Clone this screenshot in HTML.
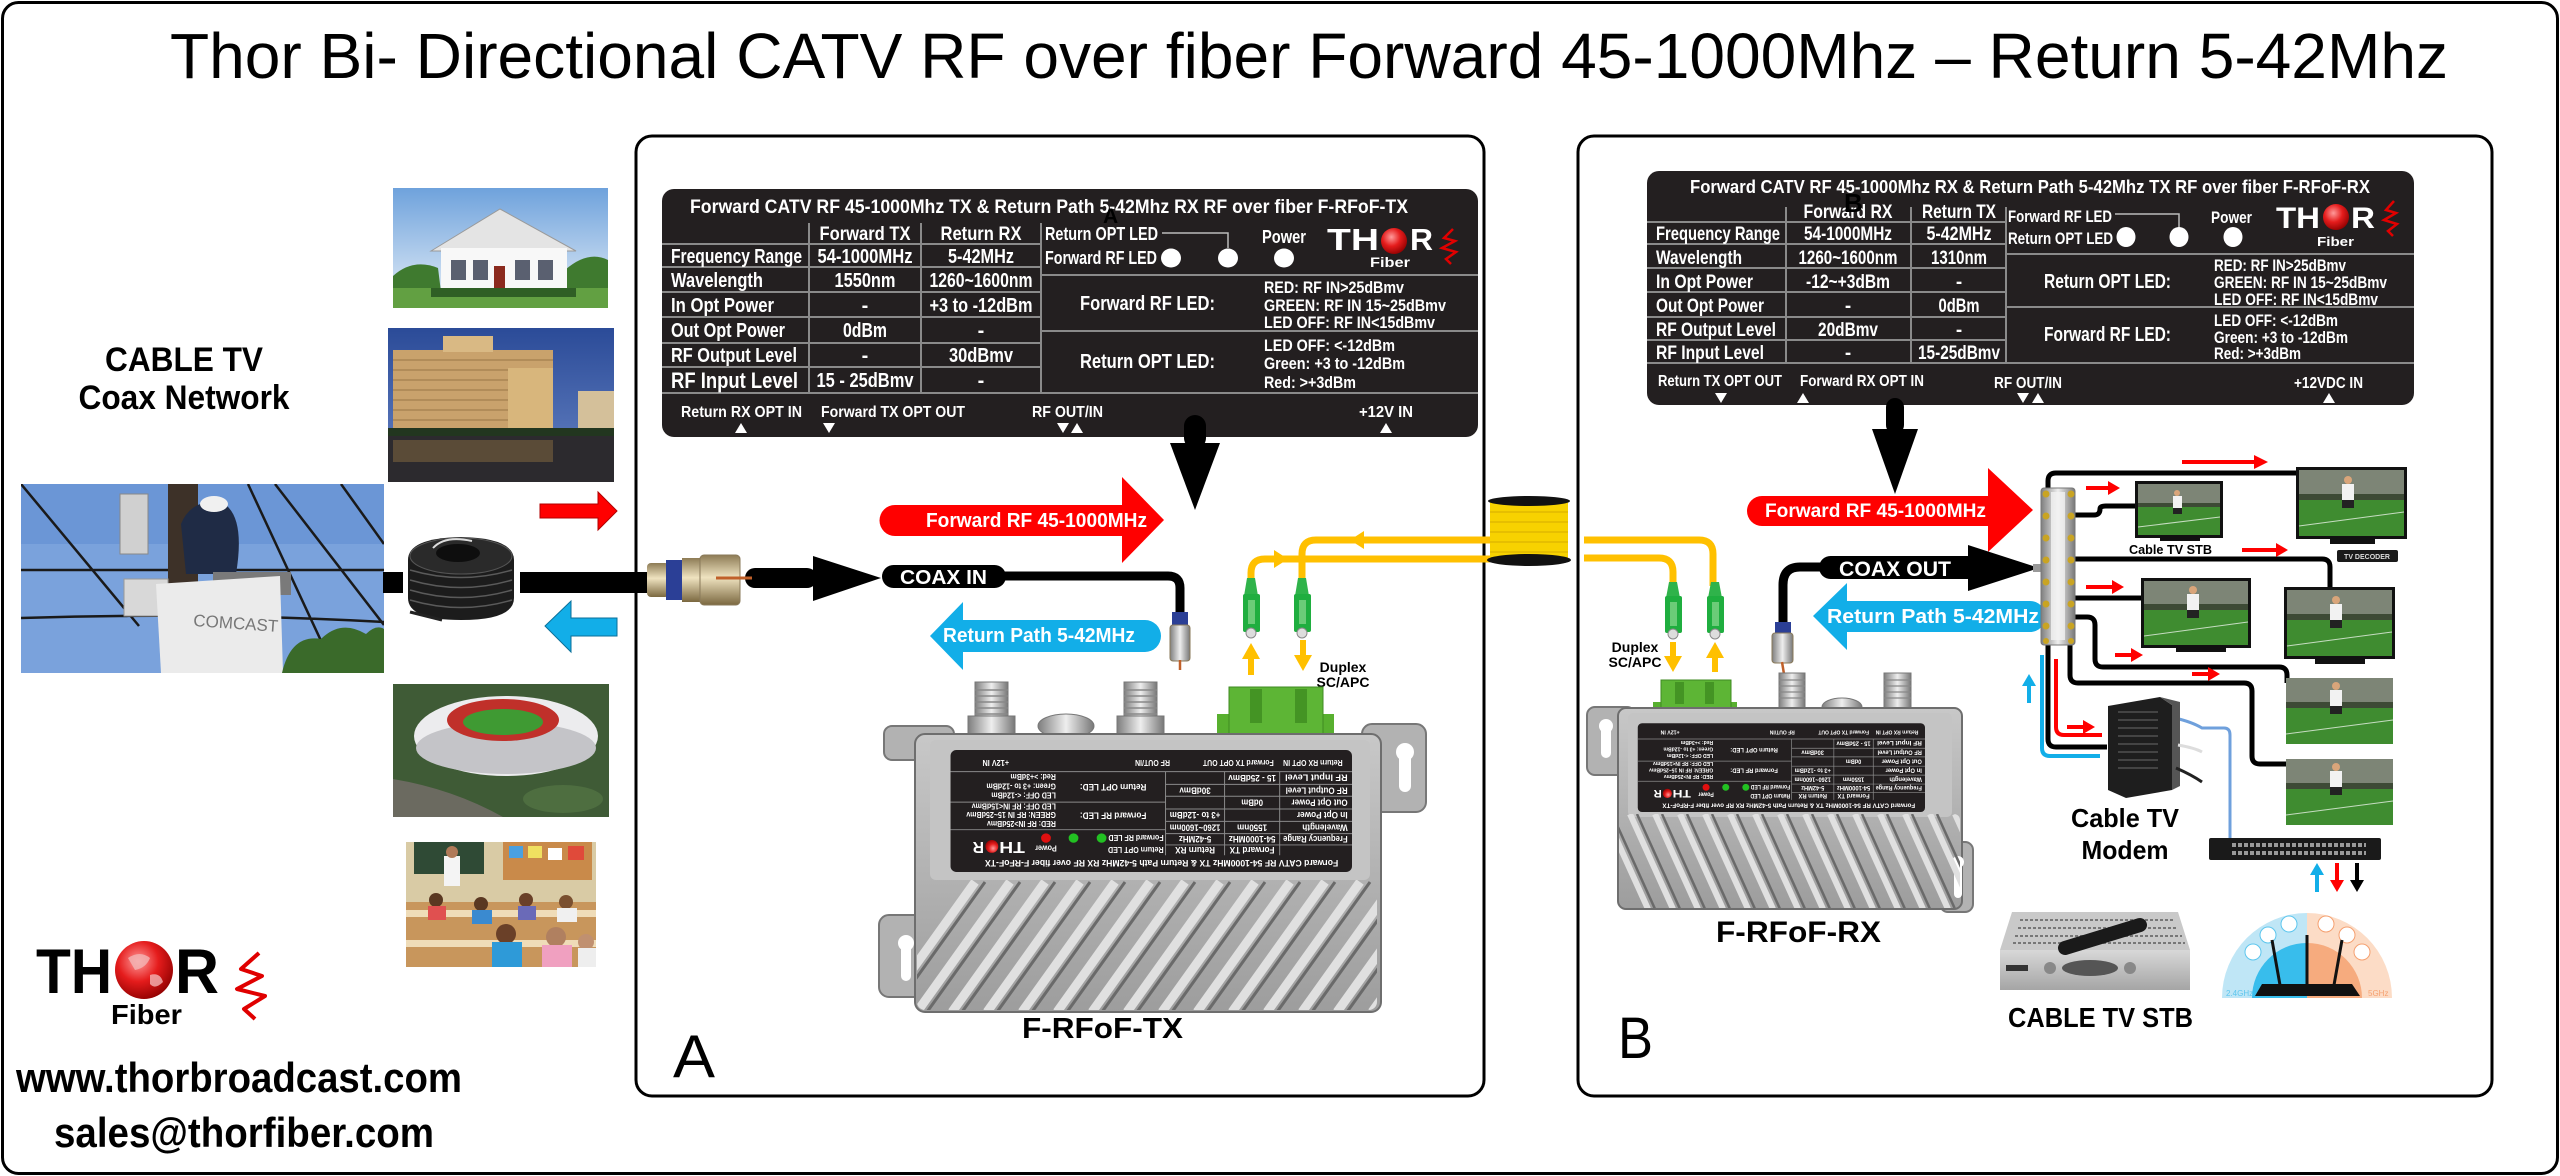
<!DOCTYPE html>
<html><head><meta charset="utf-8">
<style>
html,body{margin:0;padding:0;background:#fff;}
body{width:2560px;height:1176px;overflow:hidden;}
svg{display:block;}
text{font-family:"Liberation Sans",Arial,sans-serif;}
.w{fill:#fff;font-weight:bold;}
.b{font-weight:bold;}
</style></head><body>
<svg width="2560" height="1176" viewBox="0 0 2560 1176">
<defs>
<linearGradient id="metalh" x1="0" y1="0" x2="1" y2="0"><stop offset="0" stop-color="#7e7e7e"/><stop offset=".5" stop-color="#eeeeee"/><stop offset="1" stop-color="#777"/></linearGradient>
<linearGradient id="goldv" x1="0" y1="0" x2="0" y2="1"><stop offset="0" stop-color="#8d7b55"/><stop offset=".45" stop-color="#efe3c0"/><stop offset="1" stop-color="#7b6840"/></linearGradient>
<linearGradient id="bodyg" x1="0" y1="0" x2="0" y2="1"><stop offset="0" stop-color="#c8c8c8"/><stop offset="1" stop-color="#9d9d9d"/></linearGradient>
<radialGradient id="globe" cx=".4" cy=".35" r=".7"><stop offset="0" stop-color="#ff9a9a"/><stop offset=".5" stop-color="#e51c1c"/><stop offset="1" stop-color="#8e0000"/></radialGradient>
<linearGradient id="skyH" x1="0" y1="0" x2="0" y2="1"><stop offset="0" stop-color="#6ea2dc"/><stop offset="1" stop-color="#e6eff8"/></linearGradient>
<linearGradient id="skyT" x1="0" y1="0" x2="0" y2="1"><stop offset="0" stop-color="#2b4b98"/><stop offset="1" stop-color="#6784c4"/></linearGradient>
<linearGradient id="stb" x1="0" y1="0" x2="0" y2="1"><stop offset="0" stop-color="#d8d8d8"/><stop offset="1" stop-color="#a5a5a5"/></linearGradient>
<clipPath id="cpA"><rect x="917" y="880" width="460" height="130" rx="8"/></clipPath>
<clipPath id="cpB"><rect x="1619" y="814" width="341" height="94" rx="6"/></clipPath>
</defs>

<rect width="2560" height="1176" fill="#fff"/>
<rect x="2.5" y="2.5" width="2555" height="1171" rx="16" fill="none" stroke="#000" stroke-width="3"/>

<text x="170" y="78" font-size="64" textLength="2278" lengthAdjust="spacingAndGlyphs">Thor Bi- Directional CATV RF over fiber Forward 45-1000Mhz – Return 5-42Mhz</text>

<rect x="636" y="136" width="848" height="960" rx="16" fill="none" stroke="#000" stroke-width="3"/>
<rect x="1578" y="136" width="914" height="960" rx="16" fill="none" stroke="#000" stroke-width="3"/>

<!-- LEFT COLUMN -->
<text x="184" y="371" class="b" font-size="34" text-anchor="middle" textLength="158" lengthAdjust="spacingAndGlyphs">CABLE TV</text>
<text x="184" y="409" class="b" font-size="34" text-anchor="middle" textLength="211" lengthAdjust="spacingAndGlyphs">Coax Network</text>

<svg x="393" y="188" width="215" height="120" viewBox="0 0 215 120">
<rect width="215" height="120" fill="url(#skyH)"/>
<path d="M0,88 Q20,70 45,80 L50,120 H0Z" fill="#3f7a2f"/>
<path d="M172,82 Q195,62 215,72 V120 H172Z" fill="#3f7a2f"/>
<rect x="0" y="100" width="215" height="20" fill="#62a042"/>
<path d="M38,63 L107,21 L183,63 Z" fill="#e4e4e4" stroke="#9a9a9a"/>
<rect x="48" y="60" width="126" height="46" fill="#f8f8f8"/>
<rect x="58" y="72" width="15" height="20" fill="#5a6070"/>
<rect x="80" y="72" width="15" height="20" fill="#5a6070"/>
<rect x="101" y="78" width="11" height="27" fill="#8b2a1e"/>
<rect x="122" y="72" width="15" height="20" fill="#5a6070"/>
<rect x="145" y="72" width="15" height="20" fill="#5a6070"/>
<rect x="38" y="100" width="145" height="9" fill="#2f5f25"/>
</svg>

<svg x="388" y="328" width="226" height="154" viewBox="0 0 226 154">
<rect width="226" height="154" fill="url(#skyT)"/>
<rect x="5" y="22" width="160" height="86" fill="#c9a26c"/>
<rect x="55" y="8" width="50" height="16" fill="#d9b984"/>
<path d="M5,32H165M5,42H165M5,52H165M5,62H165M5,72H165M5,82H165M5,92H165" stroke="#a3804e" stroke-width="1.2"/>
<rect x="120" y="40" width="45" height="68" fill="#d8b67c"/>
<rect x="190" y="63" width="36" height="46" fill="#d4c09a"/>
<rect x="0" y="100" width="226" height="9" fill="#22361f"/>
<rect x="0" y="108" width="226" height="46" fill="#2c2a2e"/>
<rect x="5" y="112" width="160" height="22" fill="#6e5a3c" opacity=".7"/>
</svg>

<svg x="21" y="484" width="363" height="189" viewBox="0 0 363 189">
<rect width="363" height="189" fill="#7aa2dc"/>
<rect width="363" height="60" fill="#6b96d6"/>
<path d="M0,0 L118,142 M0,86 H363 M0,134 Q180,128 363,138 M227,0 L315,189 M254,0 L363,141 M320,0 L363,60" stroke="#1a1a1a" stroke-width="2.5" fill="none"/>
<rect x="147" y="0" width="30" height="120" fill="#3d3128"/>
<rect x="99" y="10" width="28" height="60" fill="#d0d0d0" stroke="#888"/>
<path d="M160,40 Q170,15 200,18 Q225,30 215,90 L165,90 Z" fill="#1f2b45"/>
<ellipse cx="193" cy="20" rx="14" ry="8" fill="#f0f0f0"/>
<rect x="192" y="88" width="78" height="23" fill="#7a7a7a"/>
<rect x="103" y="95" width="44" height="37" fill="#d8d8d8" stroke="#999"/>
<path d="M135,100 L259,92 L262,189 L140,189 Z" fill="#ebebeb"/>
<text x="172" y="142" font-size="17" fill="#777" transform="rotate(4 172 142)">COMCAST</text>
<path d="M261,189 Q270,150 300,155 Q320,135 345,150 Q355,140 363,145 V189 Z" fill="#3a6a2a"/>
</svg>

<svg x="393" y="684" width="216" height="133" viewBox="0 0 216 133">
<rect width="216" height="133" fill="#3f5b36"/>
<path d="M0,95 Q60,105 110,133 H0Z" fill="#6b6a60"/>
<ellipse cx="170" cy="115" rx="40" ry="14" fill="#4e6e40"/>
<ellipse cx="113" cy="52" rx="92" ry="40" fill="#ececee"/>
<ellipse cx="113" cy="64" rx="90" ry="26" fill="#c4c4c8"/>
<ellipse cx="110" cy="36" rx="56" ry="21" fill="#c0302a"/>
<ellipse cx="110" cy="38" rx="40" ry="13" fill="#3f9a33"/>
</svg>

<svg x="406" y="842" width="190" height="125" viewBox="0 0 190 125">
<rect width="190" height="125" fill="#d9cba5"/>
<rect x="8" y="0" width="70" height="32" fill="#2f4a35"/>
<rect x="97" y="0" width="89" height="38" fill="#c98a4a"/>
<rect x="103" y="4" width="14" height="12" fill="#4aa0e0"/><rect x="122" y="4" width="14" height="12" fill="#f0e060"/><rect x="142" y="6" width="14" height="12" fill="#fff"/><rect x="162" y="4" width="16" height="14" fill="#e04a3a"/>
<rect x="38" y="14" width="16" height="30" fill="#f4f4f4"/><circle cx="46" cy="10" r="6" fill="#b07a58"/>
<rect x="0" y="60" width="190" height="65" fill="#c8965c"/>
<rect x="0" y="68" width="190" height="7" fill="#efdcb8"/>
<rect x="0" y="98" width="190" height="7" fill="#efdcb8"/>
<circle cx="30" cy="58" r="7" fill="#5a3822"/><rect x="22" y="64" width="18" height="14" fill="#e05050"/>
<circle cx="75" cy="62" r="7" fill="#5a3822"/><rect x="66" y="68" width="20" height="14" fill="#3a8ad0"/>
<circle cx="120" cy="58" r="7" fill="#6a4028"/><rect x="112" y="64" width="18" height="14" fill="#6a6ab8"/>
<circle cx="160" cy="60" r="7" fill="#7a5030"/><rect x="151" y="66" width="20" height="14" fill="#f0f0f0"/>
<circle cx="100" cy="92" r="10" fill="#6a4028"/><rect x="86" y="100" width="30" height="25" fill="#2e9ad8"/>
<circle cx="150" cy="95" r="10" fill="#b08060"/><rect x="136" y="103" width="30" height="22" fill="#f0a0c0"/>
<circle cx="180" cy="100" r="8" fill="#c09070"/><rect x="172" y="106" width="18" height="19" fill="#eee"/>
</svg>

<path d="M540,504 H598 V492 L617,511 L598,530 V518 H540 Z" fill="#ff0000" stroke="#b00000" stroke-width="1"/>
<path d="M617,618 H571 V601 L545,626 L571,652 V636 H617 Z" fill="#12aee8" stroke="#0a6f99" stroke-width="1"/>
<rect x="383" y="572" width="20" height="21" fill="#000"/>
<rect x="520" y="572" width="140" height="21" fill="#000"/>
<path d="M408,560 Q408,538 461,537 Q514,538 514,560 V598 Q514,620 461,620 Q408,620 408,598 Z" fill="#1c1c1c"/>
<path d="M410,570 Q461,585 512,570 M410,580 Q461,595 512,580 M410,590 Q461,605 512,590 M410,600 Q461,615 512,600" stroke="#5a5a5a" stroke-width="1.5" fill="none"/>
<ellipse cx="461" cy="556" rx="51" ry="18" fill="#2a2a2a" stroke="#555"/>
<ellipse cx="458" cy="553" rx="22" ry="9" fill="#0e0e0e"/>
<path d="M433,548 Q445,535 472,541" stroke="#ddd" stroke-width="2" fill="none"/>
<path d="M410,612 L442,620" stroke="#222" stroke-width="3"/>

<text x="36" y="993" font-size="63" font-weight="900" textLength="76" lengthAdjust="spacingAndGlyphs">TH</text>
<circle cx="144" cy="970" r="29" fill="url(#globe)"/>
<path d="M128,958 Q140,950 150,958 Q146,968 135,970 Z M150,975 Q160,972 163,982 Q155,990 150,984 Z" fill="#f2b5b5" opacity=".8"/>
<text x="175" y="993" font-size="63" font-weight="900" textLength="44" lengthAdjust="spacingAndGlyphs">R</text>
<text x="111" y="1024" font-size="28" class="b" textLength="71" lengthAdjust="spacingAndGlyphs">Fiber</text>
<path d="M259,953 L241,969 L262,976 L237,989 L265,996 L244,1009 L255,1019" stroke="#e00000" stroke-width="4" fill="none" stroke-linejoin="round"/>
<text x="16" y="1092" font-size="42" class="b" textLength="446" lengthAdjust="spacingAndGlyphs">www.thorbroadcast.com</text>
<text x="54" y="1147" font-size="42" class="b" textLength="380" lengthAdjust="spacingAndGlyphs">sales@thorfiber.com</text>

<!-- ===== PANEL A LABEL ===== -->
<g transform="translate(662,189)">
<rect width="816" height="248" rx="12" fill="#231f20"/>
<path d="M0,55H379M0,78H379M0,103H379M0,128H379M0,154H379M0,178H379M0,204H816M379,86H816M379,142H816M147,34V204M259,34V204M379,34V204" stroke="#8a8a8a" stroke-width="2" fill="none"/>
<path d="M500,44H566V59" stroke="#bbb" stroke-width="1.5" fill="none"/>
<g class="w" font-size="20">
<text x="28" y="24" font-size="19" textLength="718" lengthAdjust="spacingAndGlyphs">Forward CATV RF 45-1000Mhz TX &amp; Return Path 5-42Mhz RX RF over fiber F-RFoF-TX</text>
<text x="203" y="51" font-size="19" text-anchor="middle" textLength="91" lengthAdjust="spacingAndGlyphs">Forward TX</text>
<text x="319" y="51" font-size="19" text-anchor="middle" textLength="81" lengthAdjust="spacingAndGlyphs">Return RX</text>
<text x="9" y="74" textLength="131" lengthAdjust="spacingAndGlyphs">Frequency Range</text>
<text x="203" y="74" text-anchor="middle" textLength="95" lengthAdjust="spacingAndGlyphs">54-1000MHz</text>
<text x="319" y="74" text-anchor="middle" textLength="66" lengthAdjust="spacingAndGlyphs">5-42MHz</text>
<text x="9" y="98" textLength="92" lengthAdjust="spacingAndGlyphs">Wavelength</text>
<text x="203" y="98" text-anchor="middle" textLength="61" lengthAdjust="spacingAndGlyphs">1550nm</text>
<text x="319" y="98" text-anchor="middle" textLength="103" lengthAdjust="spacingAndGlyphs">1260~1600nm</text>
<text x="9" y="123" textLength="103" lengthAdjust="spacingAndGlyphs">In Opt Power</text>
<text x="203" y="123" text-anchor="middle">-</text>
<text x="319" y="123" text-anchor="middle" textLength="103" lengthAdjust="spacingAndGlyphs">+3 to -12dBm</text>
<text x="9" y="148" textLength="114" lengthAdjust="spacingAndGlyphs">Out Opt Power</text>
<text x="203" y="148" text-anchor="middle" textLength="44" lengthAdjust="spacingAndGlyphs">0dBm</text>
<text x="319" y="148" text-anchor="middle">-</text>
<text x="9" y="173" textLength="126" lengthAdjust="spacingAndGlyphs">RF Output Level</text>
<text x="203" y="173" text-anchor="middle">-</text>
<text x="319" y="173" text-anchor="middle" textLength="64" lengthAdjust="spacingAndGlyphs">30dBmv</text>
<text x="9" y="199" font-size="22" textLength="127" lengthAdjust="spacingAndGlyphs">RF Input Level</text>
<text x="203" y="198" text-anchor="middle" textLength="97" lengthAdjust="spacingAndGlyphs">15 - 25dBmv</text>
<text x="319" y="198" text-anchor="middle">-</text>
<text x="383" y="51" font-size="18" textLength="113" lengthAdjust="spacingAndGlyphs">Return OPT LED</text>
<text x="383" y="75" font-size="18" textLength="112" lengthAdjust="spacingAndGlyphs">Forward RF LED</text>
<text x="600" y="54" font-size="18" textLength="44" lengthAdjust="spacingAndGlyphs">Power</text>
<ellipse cx="509" cy="69" rx="10" ry="9.5"/><ellipse cx="566" cy="69" rx="10" ry="9.5"/><ellipse cx="622" cy="69" rx="10" ry="9.5"/>
<text x="665" y="61" font-size="31" font-weight="900" textLength="52" lengthAdjust="spacingAndGlyphs">TH</text>
<circle cx="732" cy="52" r="13" fill="url(#globe)"/>
<text x="748" y="61" font-size="31" font-weight="900" textLength="23" lengthAdjust="spacingAndGlyphs">R</text>
<text x="708" y="78" font-size="14" textLength="40" lengthAdjust="spacingAndGlyphs">Fiber</text>
<text x="418" y="121" font-size="20" textLength="135" lengthAdjust="spacingAndGlyphs">Forward RF LED:</text>
<text x="602" y="104" font-size="17" textLength="140" lengthAdjust="spacingAndGlyphs">RED: RF IN&gt;25dBmv</text>
<text x="602" y="122" font-size="17" textLength="182" lengthAdjust="spacingAndGlyphs">GREEN: RF IN 15~25dBmv</text>
<text x="602" y="139" font-size="17" textLength="171" lengthAdjust="spacingAndGlyphs">LED OFF: RF IN&lt;15dBmv</text>
<text x="418" y="179" font-size="20" textLength="135" lengthAdjust="spacingAndGlyphs">Return OPT LED:</text>
<text x="602" y="162" font-size="17" textLength="131" lengthAdjust="spacingAndGlyphs">LED OFF: &lt;-12dBm</text>
<text x="602" y="180" font-size="17" textLength="141" lengthAdjust="spacingAndGlyphs">Green: +3 to -12dBm</text>
<text x="602" y="199" font-size="17" textLength="92" lengthAdjust="spacingAndGlyphs">Red: &gt;+3dBm</text>
<text x="19" y="228" font-size="16" textLength="121" lengthAdjust="spacingAndGlyphs">Return RX OPT IN</text>
<text x="159" y="228" font-size="16" textLength="144" lengthAdjust="spacingAndGlyphs">Forward TX OPT OUT</text>
<text x="370" y="228" font-size="16" textLength="71" lengthAdjust="spacingAndGlyphs">RF OUT/IN</text>
<text x="697" y="228" font-size="16" textLength="54" lengthAdjust="spacingAndGlyphs">+12V IN</text>
<path d="M73,244L79,234L85,244Z M161,234L167,244L173,234Z M395,234L401,244L407,234Z M409,244L415,234L421,244Z M718,244L724,234L730,244Z"/>
</g>
<path d="M791,40 L782,49 L793,52 L780,59 L794,63 L784,70 L789,75" stroke="#e00000" stroke-width="2.5" fill="none"/>
<text x="441" y="34" font-size="21" fill="#000" font-weight="bold">A</text>
</g>

<rect x="1184" y="415" width="22" height="34" rx="11" fill="#000"/>
<path d="M1170,443 L1220,443 L1195,510 Z" fill="#000"/>

<path d="M895,505 H1122 V477 L1164,520 L1122,563 V536 H895 A15.5,15.5 0 0 1 895,505 Z" fill="#ff0000"/>
<text x="926" y="527" class="w" font-size="20" textLength="221" lengthAdjust="spacingAndGlyphs">Forward RF 45-1000MHz</text>

<rect x="647" y="563" width="22" height="34" rx="4" fill="url(#goldv)"/>
<rect x="666" y="560" width="18" height="40" fill="#2b3f96"/>
<rect x="682" y="558" width="20" height="44" fill="url(#goldv)"/>
<rect x="700" y="555" width="40" height="50" rx="4" fill="url(#goldv)" stroke="#8a7a5a"/>
<rect x="745" y="568" width="72" height="20" rx="10" fill="#000"/>
<line x1="716" y1="578" x2="752" y2="578" stroke="#c0602a" stroke-width="3"/>
<path d="M813,556 L881,578 L813,601 Z" fill="#000"/>
<path d="M1000,576 H1168 Q1180,576 1180,588 V614" stroke="#000" stroke-width="9" fill="none"/>
<rect x="882" y="565" width="124" height="23" rx="11.5" fill="#000"/>
<text x="900" y="584" class="w" font-size="20" textLength="87" lengthAdjust="spacingAndGlyphs">COAX IN</text>
<rect x="1172" y="612" width="16" height="14" fill="#2b3f96"/>
<rect x="1170" y="625" width="20" height="36" rx="3" fill="url(#metalh)" stroke="#8a7a5a"/>
<line x1="1180" y1="660" x2="1180" y2="670" stroke="#c0602a" stroke-width="2.5"/>

<path d="M930,636 L963,602 V620 H1145 A16,16 0 0 1 1145,652 H963 V670 Z" fill="#12aee8"/>
<text x="943" y="642" class="w" font-size="20" textLength="192" lengthAdjust="spacingAndGlyphs">Return Path 5-42MHz</text>

<path d="M1472,540 H1316 Q1302,540 1302,554 V582 M1472,559 H1265 Q1251,559 1251,573 V582" stroke="#ffc000" stroke-width="7" fill="none"/>
<path d="M1350,540 L1364,531 L1364,549 Z M1288,559 L1274,550 L1274,568 Z" fill="#ffc000"/>
<path d="M1247,578 H1255 L1258,596 H1244 Z M1298,578 H1306 L1309,596 H1295 Z" fill="#2fb34a"/>
<rect x="1243" y="594" width="17" height="38" rx="2" fill="#1fae3f"/><rect x="1294" y="594" width="17" height="38" rx="2" fill="#1fae3f"/>
<rect x="1248" y="600" width="7" height="24" fill="#9fe09f" opacity=".6"/><rect x="1299" y="600" width="7" height="24" fill="#9fe09f" opacity=".6"/>
<circle cx="1251" cy="633" r="5" fill="#ddd" stroke="#888"/><circle cx="1302" cy="633" r="5" fill="#ddd" stroke="#888"/>
<path d="M1251,643 L1260,659 H1254 V675 H1248 V659 H1242 Z M1303,671 L1312,655 H1306 V640 H1300 V655 H1294 Z" fill="#ffc000"/>
<text x="1343" y="672" class="b" font-size="14" text-anchor="middle">Duplex</text>
<text x="1343" y="687" class="b" font-size="14" text-anchor="middle">SC/APC</text>

<!-- TX device -->
<rect x="975" y="682" width="33" height="52" fill="url(#metalh)" stroke="#777"/>
<path d="M975,690H1008M975,696H1008M975,702H1008M975,708H1008M975,714H1008" stroke="#888" stroke-width="1.5"/>
<rect x="968" y="716" width="47" height="20" fill="url(#metalh)" stroke="#777"/>
<rect x="1124" y="682" width="33" height="52" fill="url(#metalh)" stroke="#777"/>
<path d="M1124,690H1157M1124,696H1157M1124,702H1157M1124,708H1157M1124,714H1157" stroke="#888" stroke-width="1.5"/>
<rect x="1117" y="716" width="47" height="20" fill="url(#metalh)" stroke="#777"/>
<ellipse cx="1066" cy="726" rx="28" ry="12" fill="url(#metalh)" stroke="#777"/>
<rect x="1217" y="714" width="117" height="26" fill="#58b02f"/>
<rect x="1229" y="687" width="94" height="48" fill="#5db535" stroke="#3f8a22"/>
<rect x="1250" y="689" width="12" height="34" fill="#449424"/><rect x="1295" y="689" width="12" height="34" fill="#449424"/>
<rect x="884" y="726" width="70" height="34" rx="8" fill="#b2b2b2" stroke="#777" stroke-width="2"/>
<rect x="1362" y="724" width="64" height="88" rx="10" fill="#b2b2b2" stroke="#777" stroke-width="2"/>
<rect x="879" y="915" width="56" height="82" rx="10" fill="#b2b2b2" stroke="#777" stroke-width="2"/>
<rect x="915" y="734" width="466" height="278" rx="10" fill="url(#bodyg)" stroke="#6e6e6e" stroke-width="2"/>
<rect x="930" y="740" width="440" height="140" rx="6" fill="#c4c4c4"/>
<circle cx="1405" cy="752" r="9" fill="#fff"/><rect x="1399" y="752" width="12" height="40" rx="6" fill="#fff"/>
<circle cx="906" cy="943" r="8" fill="#fff"/><rect x="901" y="943" width="10" height="38" rx="5" fill="#fff"/>
<g clip-path="url(#cpA)">
<path d="M975,882L882,1012M1010,882L917,1012M1045,882L952,1012M1080,882L987,1012M1115,882L1022,1012M1150,882L1057,1012M1185,882L1092,1012M1220,882L1127,1012M1255,882L1162,1012M1290,882L1197,1012M1325,882L1232,1012M1360,882L1267,1012M1395,882L1302,1012M1430,882L1337,1012M1465,882L1372,1012" stroke="#e0e0e0" stroke-width="9"/>
<path d="M985,882L892,1012M1020,882L927,1012M1055,882L962,1012M1090,882L997,1012M1125,882L1032,1012M1160,882L1067,1012M1195,882L1102,1012M1230,882L1137,1012M1265,882L1172,1012M1300,882L1207,1012M1335,882L1242,1012M1370,882L1277,1012M1405,882L1312,1012M1440,882L1347,1012" stroke="#6a6a6a" stroke-width="3"/>
</g>
<g transform="translate(1352,872) rotate(180) scale(0.492)">
<rect width="816" height="248" rx="12" fill="#231f20"/>
<path d="M0,55H379M0,78H379M0,103H379M0,128H379M0,154H379M0,178H379M0,204H816M379,86H816M379,142H816M147,34V204M259,34V204M379,34V204" stroke="#8a8a8a" stroke-width="2" fill="none"/>
<g class="w" font-size="19">
<text x="28" y="24" font-size="19" textLength="718" lengthAdjust="spacingAndGlyphs">Forward CATV RF 54-1000MHz TX &amp; Return Path 5-42MHz RX RF over fiber F-RFoF-TX</text>
<text x="203" y="51" text-anchor="middle" textLength="91" lengthAdjust="spacingAndGlyphs">Forward TX</text>
<text x="319" y="51" text-anchor="middle" textLength="81" lengthAdjust="spacingAndGlyphs">Return RX</text>
<text x="9" y="73" textLength="131" lengthAdjust="spacingAndGlyphs">Frequency Range</text>
<text x="203" y="73" text-anchor="middle" textLength="95" lengthAdjust="spacingAndGlyphs">54-1000MHz</text>
<text x="319" y="73" text-anchor="middle" textLength="66" lengthAdjust="spacingAndGlyphs">5-42MHz</text>
<text x="9" y="97" textLength="92" lengthAdjust="spacingAndGlyphs">Wavelength</text>
<text x="203" y="97" text-anchor="middle" textLength="61" lengthAdjust="spacingAndGlyphs">1550nm</text>
<text x="319" y="97" text-anchor="middle" textLength="103" lengthAdjust="spacingAndGlyphs">1260~1600nm</text>
<text x="9" y="122" textLength="103" lengthAdjust="spacingAndGlyphs">In Opt Power</text>
<text x="319" y="122" text-anchor="middle" textLength="103" lengthAdjust="spacingAndGlyphs">+3 to -12dBm</text>
<text x="9" y="147" textLength="114" lengthAdjust="spacingAndGlyphs">Out Opt Power</text>
<text x="203" y="147" text-anchor="middle" textLength="44" lengthAdjust="spacingAndGlyphs">0dBm</text>
<text x="9" y="172" textLength="126" lengthAdjust="spacingAndGlyphs">RF Output Level</text>
<text x="319" y="172" text-anchor="middle" textLength="64" lengthAdjust="spacingAndGlyphs">30dBmv</text>
<text x="9" y="198" textLength="127" lengthAdjust="spacingAndGlyphs">RF Input Level</text>
<text x="203" y="197" text-anchor="middle" textLength="97" lengthAdjust="spacingAndGlyphs">15 - 25dBmv</text>
<text x="383" y="51" font-size="17" textLength="113" lengthAdjust="spacingAndGlyphs">Return OPT LED</text>
<text x="383" y="75" font-size="17" textLength="112" lengthAdjust="spacingAndGlyphs">Forward RF LED</text>
<text x="600" y="54" font-size="17" textLength="44" lengthAdjust="spacingAndGlyphs">Power</text>
<text x="665" y="61" font-size="31" textLength="52" lengthAdjust="spacingAndGlyphs">TH</text>
<text x="748" y="61" font-size="31" textLength="23" lengthAdjust="spacingAndGlyphs">R</text>
<text x="418" y="121" font-size="19" textLength="135" lengthAdjust="spacingAndGlyphs">Forward RF LED:</text>
<text x="602" y="104" font-size="16" textLength="140" lengthAdjust="spacingAndGlyphs">RED: RF IN&gt;25dBmv</text>
<text x="602" y="122" font-size="16" textLength="182" lengthAdjust="spacingAndGlyphs">GREEN: RF IN 15~25dBmv</text>
<text x="602" y="139" font-size="16" textLength="171" lengthAdjust="spacingAndGlyphs">LED OFF: RF IN&lt;15dBmv</text>
<text x="418" y="179" font-size="19" textLength="135" lengthAdjust="spacingAndGlyphs">Return OPT LED:</text>
<text x="602" y="162" font-size="16" textLength="131" lengthAdjust="spacingAndGlyphs">LED OFF: &lt;-12dBm</text>
<text x="602" y="180" font-size="16" textLength="141" lengthAdjust="spacingAndGlyphs">Green: +3 to -12dBm</text>
<text x="602" y="199" font-size="16" textLength="92" lengthAdjust="spacingAndGlyphs">Red: &gt;+3dBm</text>
<text x="19" y="228" font-size="16" textLength="121" lengthAdjust="spacingAndGlyphs">Return RX OPT IN</text>
<text x="159" y="228" font-size="16" textLength="144" lengthAdjust="spacingAndGlyphs">Forward TX OPT OUT</text>
<text x="370" y="228" font-size="16" textLength="71" lengthAdjust="spacingAndGlyphs">RF OUT/IN</text>
<text x="697" y="228" font-size="16" textLength="54" lengthAdjust="spacingAndGlyphs">+12V IN</text>
</g>
<ellipse cx="509" cy="69" rx="10" ry="9.5" fill="#22c022"/><ellipse cx="566" cy="69" rx="10" ry="9.5" fill="#22c022"/><ellipse cx="622" cy="69" rx="10" ry="9.5" fill="#e01010"/>
<circle cx="732" cy="52" r="13" fill="url(#globe)"/>
</g>
<text x="1022" y="1038" class="b" font-size="29" textLength="161" lengthAdjust="spacingAndGlyphs">F-RFoF-TX</text>
<text x="673" y="1077" font-size="60" textLength="42" lengthAdjust="spacingAndGlyphs">A</text>

<!-- spool -->
<path d="M1472,540 H1490 M1472,559 H1490" stroke="#ffc000" stroke-width="7"/>
<rect x="1490" y="501" width="78" height="59" fill="#f7d200"/>
<path d="M1490,512H1568M1490,522H1568M1490,532H1568M1490,542H1568M1490,552H1568" stroke="#dcb400" stroke-width="1.2"/>
<ellipse cx="1529" cy="501" rx="41" ry="5" fill="#111"/>
<ellipse cx="1529" cy="560" rx="42" ry="6" fill="#111"/>

<!-- ===== PANEL B LABEL ===== -->
<g transform="translate(1647,171)">
<rect width="767" height="234" rx="12" fill="#231f20"/>
<path d="M0,51H359M0,73H359M0,97H359M0,121H359M0,146H359M0,169H359M0,192H767M359,83H767M359,136H767M139,36V192M264,36V192M359,36V192" stroke="#8a8a8a" stroke-width="2" fill="none"/>
<path d="M468,43H532V57" stroke="#bbb" stroke-width="1.5" fill="none"/>
<g class="w" font-size="19">
<text x="43" y="22" font-size="18" textLength="680" lengthAdjust="spacingAndGlyphs">Forward CATV RF 45-1000Mhz RX &amp; Return Path 5-42Mhz TX RF over fiber F-RFoF-RX</text>
<text x="201" y="47" text-anchor="middle" textLength="89" lengthAdjust="spacingAndGlyphs">Forward RX</text>
<text x="312" y="47" text-anchor="middle" textLength="74" lengthAdjust="spacingAndGlyphs">Return TX</text>
<text x="9" y="69" textLength="124" lengthAdjust="spacingAndGlyphs">Frequency Range</text>
<text x="201" y="69" text-anchor="middle" textLength="88" lengthAdjust="spacingAndGlyphs">54-1000MHz</text>
<text x="312" y="69" text-anchor="middle" textLength="65" lengthAdjust="spacingAndGlyphs">5-42MHz</text>
<text x="9" y="93" textLength="86" lengthAdjust="spacingAndGlyphs">Wavelength</text>
<text x="201" y="93" text-anchor="middle" textLength="99" lengthAdjust="spacingAndGlyphs">1260~1600nm</text>
<text x="312" y="93" text-anchor="middle" textLength="56" lengthAdjust="spacingAndGlyphs">1310nm</text>
<text x="9" y="117" textLength="97" lengthAdjust="spacingAndGlyphs">In Opt Power</text>
<text x="201" y="117" text-anchor="middle" textLength="84" lengthAdjust="spacingAndGlyphs">-12~+3dBm</text>
<text x="312" y="117" text-anchor="middle">-</text>
<text x="9" y="141" textLength="108" lengthAdjust="spacingAndGlyphs">Out Opt Power</text>
<text x="201" y="141" text-anchor="middle">-</text>
<text x="312" y="141" text-anchor="middle" textLength="41" lengthAdjust="spacingAndGlyphs">0dBm</text>
<text x="9" y="165" textLength="120" lengthAdjust="spacingAndGlyphs">RF Output Level</text>
<text x="201" y="165" text-anchor="middle" textLength="60" lengthAdjust="spacingAndGlyphs">20dBmv</text>
<text x="312" y="165" text-anchor="middle">-</text>
<text x="9" y="188" textLength="108" lengthAdjust="spacingAndGlyphs">RF Input Level</text>
<text x="201" y="188" text-anchor="middle">-</text>
<text x="312" y="188" text-anchor="middle" textLength="82" lengthAdjust="spacingAndGlyphs">15-25dBmv</text>
<text x="361" y="51" font-size="17" textLength="104" lengthAdjust="spacingAndGlyphs">Forward RF LED</text>
<text x="361" y="73" font-size="17" textLength="105" lengthAdjust="spacingAndGlyphs">Return OPT LED</text>
<text x="564" y="52" font-size="17" textLength="41" lengthAdjust="spacingAndGlyphs">Power</text>
<ellipse cx="479" cy="66" rx="9.5" ry="10"/><ellipse cx="532" cy="66" rx="9.5" ry="10"/><ellipse cx="586" cy="66" rx="9.5" ry="10"/>
<text x="629" y="57" font-size="30" font-weight="900" textLength="44" lengthAdjust="spacingAndGlyphs">TH</text>
<circle cx="689" cy="46" r="13" fill="url(#globe)"/>
<text x="704" y="57" font-size="30" font-weight="900" textLength="24" lengthAdjust="spacingAndGlyphs">R</text>
<text x="670" y="75" font-size="13" textLength="37" lengthAdjust="spacingAndGlyphs">Fiber</text>
<text x="397" y="117" font-size="20" textLength="127" lengthAdjust="spacingAndGlyphs">Return OPT LED:</text>
<text x="567" y="100" font-size="17" textLength="132" lengthAdjust="spacingAndGlyphs">RED: RF IN&gt;25dBmv</text>
<text x="567" y="117" font-size="17" textLength="173" lengthAdjust="spacingAndGlyphs">GREEN: RF IN 15~25dBmv</text>
<text x="567" y="134" font-size="17" textLength="164" lengthAdjust="spacingAndGlyphs">LED OFF: RF IN&lt;15dBmv</text>
<text x="397" y="170" font-size="20" textLength="127" lengthAdjust="spacingAndGlyphs">Forward RF LED:</text>
<text x="567" y="155" font-size="17" textLength="124" lengthAdjust="spacingAndGlyphs">LED OFF: &lt;-12dBm</text>
<text x="567" y="172" font-size="17" textLength="134" lengthAdjust="spacingAndGlyphs">Green: +3 to -12dBm</text>
<text x="567" y="188" font-size="17" textLength="87" lengthAdjust="spacingAndGlyphs">Red: &gt;+3dBm</text>
<text x="11" y="215" font-size="16" textLength="124" lengthAdjust="spacingAndGlyphs">Return TX OPT OUT</text>
<text x="153" y="215" font-size="16" textLength="124" lengthAdjust="spacingAndGlyphs">Forward RX OPT IN</text>
<text x="347" y="217" font-size="16" textLength="68" lengthAdjust="spacingAndGlyphs">RF OUT/IN</text>
<text x="647" y="217" font-size="16" textLength="69" lengthAdjust="spacingAndGlyphs">+12VDC IN</text>
<path d="M68,222L74,232L80,222Z M150,232L156,222L162,232Z M370,222L376,232L382,222Z M385,232L391,222L397,232Z M676,232L682,222L688,232Z"/>
</g>
<path d="M747,30 L739,39 L749,42 L737,49 L750,53 L741,60 L746,65" stroke="#e00000" stroke-width="2.5" fill="none"/>
<text x="197" y="41" font-size="26" fill="#000" font-weight="bold">B</text>
</g>

<rect x="1886" y="398" width="18" height="36" rx="9" fill="#000"/>
<path d="M1872,429 L1918,429 L1895,494 Z" fill="#000"/>

<path d="M1762,496 H1988 V468 L2033,510 L1988,552 V526 H1762 A15,15 0 0 1 1762,496 Z" fill="#ff0000"/>
<text x="1765" y="517" class="w" font-size="19" textLength="221" lengthAdjust="spacingAndGlyphs">Forward RF 45-1000MHz</text>

<path d="M1830,567 H1800 Q1783,567 1783,585 V626" stroke="#000" stroke-width="9" fill="none"/>
<rect x="1775" y="622" width="16" height="12" fill="#2b3f96"/>
<rect x="1772" y="633" width="21" height="30" rx="3" fill="url(#metalh)" stroke="#8a7a5a"/>
<line x1="1782" y1="662" x2="1784" y2="674" stroke="#c0602a" stroke-width="2.5"/>
<rect x="1819" y="556" width="160" height="23" rx="11.5" fill="#000"/>
<path d="M1968,545 L2039,568 L1968,591 Z" fill="#000"/>
<text x="1839" y="576" class="w" font-size="21" textLength="112" lengthAdjust="spacingAndGlyphs">COAX OUT</text>

<path d="M1813,616 L1847,583 V601 H2030 A15.5,15.5 0 0 1 2030,632 H1847 V650 Z" fill="#12aee8"/>
<text x="1827" y="623" class="w" font-size="20" textLength="212" lengthAdjust="spacingAndGlyphs">Return Path 5-42MHz</text>

<path d="M1584,540 H1699 Q1713,540 1713,554 V586 M1584,558 H1659 Q1673,558 1673,572 V586" stroke="#ffc000" stroke-width="7" fill="none"/>
<path d="M1669,582 H1677 L1680,598 H1666 Z M1711,582 H1719 L1722,598 H1708 Z" fill="#2fb34a"/>
<rect x="1665" y="596" width="17" height="37" rx="2" fill="#1fae3f"/><rect x="1707" y="596" width="17" height="37" rx="2" fill="#1fae3f"/>
<rect x="1670" y="602" width="7" height="24" fill="#9fe09f" opacity=".6"/><rect x="1712" y="602" width="7" height="24" fill="#9fe09f" opacity=".6"/>
<circle cx="1673" cy="634" r="5" fill="#ddd" stroke="#888"/><circle cx="1715" cy="634" r="5" fill="#ddd" stroke="#888"/>
<path d="M1673,672 L1682,656 H1676 V642 H1670 V656 H1664 Z M1715,642 L1724,658 H1718 V672 H1712 V658 H1706 Z" fill="#ffc000"/>
<text x="1635" y="652" class="b" font-size="14" text-anchor="middle">Duplex</text>
<text x="1635" y="667" class="b" font-size="14" text-anchor="middle">SC/APC</text>

<!-- RX device -->
<rect x="1779" y="673" width="26" height="36" fill="url(#metalh)" stroke="#777"/>
<path d="M1779,680H1805M1779,686H1805M1779,692H1805M1779,698H1805" stroke="#888" stroke-width="1.2"/>
<rect x="1884" y="673" width="27" height="36" fill="url(#metalh)" stroke="#777"/>
<path d="M1884,680H1911M1884,686H1911M1884,692H1911M1884,698H1911" stroke="#888" stroke-width="1.2"/>
<ellipse cx="1842" cy="707" rx="20" ry="9" fill="url(#metalh)" stroke="#777"/>
<rect x="1653" y="702" width="84" height="14" fill="#58b02f"/>
<rect x="1661" y="680" width="70" height="30" fill="#5db535" stroke="#3f8a22"/>
<rect x="1675" y="682" width="9" height="22" fill="#449424"/><rect x="1705" y="682" width="9" height="22" fill="#449424"/>
<rect x="1587" y="707" width="48" height="68" rx="8" fill="#b2b2b2" stroke="#777" stroke-width="2"/>
<rect x="1940" y="842" width="33" height="70" rx="8" fill="#b2b2b2" stroke="#777" stroke-width="2"/>
<rect x="1618" y="708" width="344" height="201" rx="8" fill="url(#bodyg)" stroke="#6e6e6e" stroke-width="2"/>
<rect x="1628" y="713" width="324" height="104" rx="5" fill="#c4c4c4"/>
<circle cx="1606" cy="726" r="7" fill="#fff"/><rect x="1601" y="726" width="10" height="32" rx="5" fill="#fff"/>
<circle cx="1958" cy="862" r="6" fill="#fff"/><rect x="1954" y="862" width="8" height="36" rx="4" fill="#fff"/>
<g clip-path="url(#cpB)">
<path d="M1630,814L1673,909M1655,814L1698,909M1680,814L1723,909M1705,814L1748,909M1730,814L1773,909M1755,814L1798,909M1780,814L1823,909M1805,814L1848,909M1830,814L1873,909M1855,814L1898,909M1880,814L1923,909M1905,814L1948,909M1930,814L1973,909M1955,814L1998,909M1605,814L1648,909" stroke="#e0e0e0" stroke-width="6"/>
<path d="M1637,814L1680,909M1662,814L1705,909M1687,814L1730,909M1712,814L1755,909M1737,814L1780,909M1762,814L1805,909M1787,814L1830,909M1812,814L1855,909M1837,814L1880,909M1862,814L1905,909M1887,814L1930,909M1912,814L1955,909M1937,814L1980,909M1612,814L1655,909" stroke="#6a6a6a" stroke-width="2.5"/>
</g>
<g transform="translate(1925,812) rotate(180) scale(0.352,0.358)">
<rect width="816" height="248" rx="12" fill="#231f20"/>
<path d="M0,55H379M0,78H379M0,103H379M0,128H379M0,154H379M0,178H379M0,204H816M379,86H816M379,142H816M147,34V204M259,34V204M379,34V204" stroke="#8a8a8a" stroke-width="2" fill="none"/>
<g class="w" font-size="19">
<text x="28" y="24" font-size="19" textLength="718" lengthAdjust="spacingAndGlyphs">Forward CATV RF 54-1000MHz TX &amp; Return Path 5-42MHz RX RF over fiber F-RFoF-TX</text>
<text x="203" y="51" text-anchor="middle" textLength="91" lengthAdjust="spacingAndGlyphs">Forward TX</text>
<text x="319" y="51" text-anchor="middle" textLength="81" lengthAdjust="spacingAndGlyphs">Return RX</text>
<text x="9" y="73" textLength="131" lengthAdjust="spacingAndGlyphs">Frequency Range</text>
<text x="203" y="73" text-anchor="middle" textLength="95" lengthAdjust="spacingAndGlyphs">54-1000MHz</text>
<text x="319" y="73" text-anchor="middle" textLength="66" lengthAdjust="spacingAndGlyphs">5-42MHz</text>
<text x="9" y="97" textLength="92" lengthAdjust="spacingAndGlyphs">Wavelength</text>
<text x="203" y="97" text-anchor="middle" textLength="61" lengthAdjust="spacingAndGlyphs">1550nm</text>
<text x="319" y="97" text-anchor="middle" textLength="103" lengthAdjust="spacingAndGlyphs">1260~1600nm</text>
<text x="9" y="122" textLength="103" lengthAdjust="spacingAndGlyphs">In Opt Power</text>
<text x="319" y="122" text-anchor="middle" textLength="103" lengthAdjust="spacingAndGlyphs">+3 to -12dBm</text>
<text x="9" y="147" textLength="114" lengthAdjust="spacingAndGlyphs">Out Opt Power</text>
<text x="203" y="147" text-anchor="middle" textLength="44" lengthAdjust="spacingAndGlyphs">0dBm</text>
<text x="9" y="172" textLength="126" lengthAdjust="spacingAndGlyphs">RF Output Level</text>
<text x="319" y="172" text-anchor="middle" textLength="64" lengthAdjust="spacingAndGlyphs">30dBmv</text>
<text x="9" y="198" textLength="127" lengthAdjust="spacingAndGlyphs">RF Input Level</text>
<text x="203" y="197" text-anchor="middle" textLength="97" lengthAdjust="spacingAndGlyphs">15 - 25dBmv</text>
<text x="383" y="51" font-size="17" textLength="113" lengthAdjust="spacingAndGlyphs">Return OPT LED</text>
<text x="383" y="75" font-size="17" textLength="112" lengthAdjust="spacingAndGlyphs">Forward RF LED</text>
<text x="600" y="54" font-size="17" textLength="44" lengthAdjust="spacingAndGlyphs">Power</text>
<text x="665" y="61" font-size="31" textLength="52" lengthAdjust="spacingAndGlyphs">TH</text>
<text x="748" y="61" font-size="31" textLength="23" lengthAdjust="spacingAndGlyphs">R</text>
<text x="418" y="121" font-size="19" textLength="135" lengthAdjust="spacingAndGlyphs">Forward RF LED:</text>
<text x="602" y="104" font-size="16" textLength="140" lengthAdjust="spacingAndGlyphs">RED: RF IN&gt;25dBmv</text>
<text x="602" y="122" font-size="16" textLength="182" lengthAdjust="spacingAndGlyphs">GREEN: RF IN 15~25dBmv</text>
<text x="602" y="139" font-size="16" textLength="171" lengthAdjust="spacingAndGlyphs">LED OFF: RF IN&lt;15dBmv</text>
<text x="418" y="179" font-size="19" textLength="135" lengthAdjust="spacingAndGlyphs">Return OPT LED:</text>
<text x="602" y="162" font-size="16" textLength="131" lengthAdjust="spacingAndGlyphs">LED OFF: &lt;-12dBm</text>
<text x="602" y="180" font-size="16" textLength="141" lengthAdjust="spacingAndGlyphs">Green: +3 to -12dBm</text>
<text x="602" y="199" font-size="16" textLength="92" lengthAdjust="spacingAndGlyphs">Red: &gt;+3dBm</text>
<text x="19" y="228" font-size="16" textLength="121" lengthAdjust="spacingAndGlyphs">Return RX OPT IN</text>
<text x="159" y="228" font-size="16" textLength="144" lengthAdjust="spacingAndGlyphs">Forward TX OPT OUT</text>
<text x="370" y="228" font-size="16" textLength="71" lengthAdjust="spacingAndGlyphs">RF OUT/IN</text>
<text x="697" y="228" font-size="16" textLength="54" lengthAdjust="spacingAndGlyphs">+12V IN</text>
</g>
<ellipse cx="509" cy="69" rx="10" ry="9.5" fill="#22c022"/><ellipse cx="566" cy="69" rx="10" ry="9.5" fill="#22c022"/><ellipse cx="622" cy="69" rx="10" ry="9.5" fill="#e01010"/>
<circle cx="732" cy="52" r="13" fill="url(#globe)"/>
</g>
<text x="1716" y="942" class="b" font-size="30" textLength="165" lengthAdjust="spacingAndGlyphs">F-RFoF-RX</text>
<text x="1618" y="1058" font-size="58" textLength="35" lengthAdjust="spacingAndGlyphs">B</text>

<!-- wires right side -->
<g fill="none" stroke-width="5" stroke="#000">
<path d="M2048,492 V481 Q2048,473 2056,473 H2319 Q2327,473 2327,481 V486"/>
<path d="M2068,515 H2094 Q2100,515 2100,509 Q2100,506 2106,506 H2138"/>
<path d="M2072,559 H2322 Q2330,559 2330,567 V588"/>
<path d="M2070,598 H2142"/>
<path d="M2070,617 H2087 Q2095,617 2095,625 V659 Q2095,667 2103,667 H2279 Q2287,667 2287,675 V683"/>
<path d="M2070,642 V675 Q2070,683 2078,683 H2244 Q2252,683 2252,691 V756 Q2252,764 2260,764 H2287"/>
<path d="M2048,640 V739 Q2048,747 2056,747 H2107"/>
</g>
<path d="M2056,659 V727 Q2056,735 2064,735 H2102" fill="none" stroke="#ff0000" stroke-width="4"/>
<path d="M2042,655 V748 Q2042,756 2050,756 H2100" fill="none" stroke="#12aee8" stroke-width="4"/>
<path d="M2175,718 Q2192,722 2202,728 H2224 Q2230,728 2230,735 V846" fill="none" stroke="#6fa0dc" stroke-width="3"/>

<path d="M2182,462H2256 M2086,488H2110 M2242,550H2278 M2086,587H2114 M2115,655H2133 M2192,674H2210 M2067,727H2085" stroke="#ff0000" stroke-width="4"/>
<path d="M2254,455L2268,462L2254,469Z M2108,481L2120,488L2108,495Z M2276,543L2288,550L2276,557Z M2112,580L2124,587L2112,594Z M2131,648L2143,655L2131,662Z M2208,667L2220,674L2208,681Z M2083,720L2095,727L2083,734Z" fill="#ff0000"/>
<path d="M2029,674 L2036,686 H2031 V703 H2027 V686 H2022 Z" fill="#12aee8"/>

<rect x="2033" y="564" width="10" height="8" fill="#999"/>
<rect x="2041" y="488" width="34" height="157" rx="3" fill="url(#metalh)" stroke="#777"/>
<rect x="2051" y="492" width="14" height="148" fill="#f2f2f2" opacity=".8"/>
<g fill="#c9a423">
<circle cx="2046" cy="494" r="3.5"/><circle cx="2071" cy="494" r="3.5"/><circle cx="2046" cy="516" r="3.5"/><circle cx="2071" cy="516" r="3.5"/><circle cx="2046" cy="538" r="3.5"/><circle cx="2071" cy="538" r="3.5"/><circle cx="2046" cy="560" r="3.5"/><circle cx="2071" cy="560" r="3.5"/><circle cx="2046" cy="582" r="3.5"/><circle cx="2071" cy="582" r="3.5"/><circle cx="2046" cy="604" r="3.5"/><circle cx="2071" cy="604" r="3.5"/><circle cx="2046" cy="626" r="3.5"/><circle cx="2071" cy="626" r="3.5"/><circle cx="2046" cy="641" r="3"/><circle cx="2071" cy="641" r="3"/>
</g>

<!-- TVs -->
<rect x="2135" y="481" width="88" height="57" fill="#111"/>
<rect x="2138" y="484" width="82" height="23" fill="#7d8576"/><rect x="2138" y="503" width="82" height="5" fill="#3d4a35"/>
<rect x="2138" y="507" width="82" height="28" fill="#3f8c30"/>
<path d="M2138,527 L2220,517" stroke="#fff" stroke-width="1" opacity=".7"/>
<rect x="2173" y="496" width="9" height="12" fill="#f2f2f2"/><circle cx="2177" cy="493" r="3" fill="#d9a57a"/><rect x="2173" y="508" width="9" height="6" fill="#222"/>
<rect x="2160" y="538" width="40" height="3" fill="#111"/>
<text x="2129" y="554" class="b" font-size="13" textLength="83" lengthAdjust="spacingAndGlyphs">Cable TV STB</text>

<rect x="2296" y="467" width="111" height="72" fill="#111"/>
<rect x="2299" y="470" width="105" height="30" fill="#7d8576"/><rect x="2299" y="494" width="105" height="6" fill="#3d4a35"/>
<rect x="2299" y="500" width="105" height="36" fill="#3f8c30"/>
<path d="M2299,526 L2404,512" stroke="#fff" stroke-width="1" opacity=".7"/>
<rect x="2342" y="484" width="12" height="16" fill="#f2f2f2"/><circle cx="2348" cy="480" r="4" fill="#d9a57a"/><rect x="2342" y="500" width="12" height="8" fill="#222"/>
<rect x="2330" y="539" width="45" height="5" fill="#111"/>
<rect x="2337" y="550" width="61" height="12" rx="2" fill="#1a1a1a"/>
<text x="2367" y="559" font-size="7" fill="#ddd" text-anchor="middle" font-weight="bold">TV DECODER</text>

<rect x="2141" y="578" width="110" height="70" fill="#111"/>
<rect x="2144" y="581" width="104" height="29" fill="#7d8576"/><rect x="2144" y="604" width="104" height="6" fill="#3d4a35"/>
<rect x="2144" y="610" width="104" height="35" fill="#3f8c30"/>
<path d="M2144,636 L2248,622" stroke="#fff" stroke-width="1" opacity=".7"/>
<rect x="2187" y="594" width="12" height="16" fill="#f2f2f2"/><circle cx="2193" cy="590" r="4" fill="#d9a57a"/><rect x="2187" y="610" width="12" height="8" fill="#222"/>
<rect x="2176" y="648" width="50" height="4" fill="#111"/>

<rect x="2284" y="587" width="111" height="72" fill="#111"/>
<rect x="2287" y="590" width="105" height="30" fill="#7d8576"/><rect x="2287" y="614" width="105" height="6" fill="#3d4a35"/>
<rect x="2287" y="620" width="105" height="36" fill="#3f8c30"/>
<path d="M2287,646 L2392,632" stroke="#fff" stroke-width="1" opacity=".7"/>
<rect x="2330" y="604" width="12" height="16" fill="#f2f2f2"/><circle cx="2336" cy="600" r="4" fill="#d9a57a"/><rect x="2330" y="620" width="12" height="8" fill="#222"/>
<rect x="2315" y="659" width="50" height="5" fill="#111"/>

<rect x="2286" y="678" width="107" height="30" fill="#7d8576"/><rect x="2286" y="702" width="107" height="6" fill="#3d4a35"/>
<rect x="2286" y="708" width="107" height="36" fill="#3f8c30"/>
<path d="M2286,734 L2393,720" stroke="#fff" stroke-width="1" opacity=".7"/>
<rect x="2330" y="690" width="12" height="16" fill="#f2f2f2"/><circle cx="2336" cy="686" r="4" fill="#d9a57a"/><rect x="2330" y="706" width="12" height="8" fill="#222"/>

<rect x="2286" y="759" width="107" height="30" fill="#7d8576"/><rect x="2286" y="783" width="107" height="6" fill="#3d4a35"/>
<rect x="2286" y="789" width="107" height="36" fill="#3f8c30"/>
<path d="M2286,815 L2393,801" stroke="#fff" stroke-width="1" opacity=".7"/>
<rect x="2330" y="771" width="12" height="16" fill="#f2f2f2"/><circle cx="2336" cy="767" r="4" fill="#d9a57a"/><rect x="2330" y="787" width="12" height="8" fill="#222"/>

<!-- modem -->
<path d="M2108,706 L2160,697 L2172,705 L2172,790 L2126,798 L2108,790 Z" fill="#1e1e1e"/>
<path d="M2160,697 L2180,702 L2180,786 L2172,790 L2172,705 Z" fill="#555"/>
<path d="M2118,712 H2158 M2118,720 H2158 M2118,728 H2158 M2118,736 H2158 M2118,744 H2158 M2118,752 H2158 M2118,760 H2158 M2118,768 H2158" stroke="#444" stroke-width="2"/>
<path d="M2178,745 Q2195,748 2202,752" stroke="#ddd" stroke-width="3" fill="none"/>
<path d="M2176,768 Q2192,775 2202,782" stroke="#222" stroke-width="3" fill="none"/>
<text x="2125" y="827" class="b" font-size="26" text-anchor="middle" textLength="108" lengthAdjust="spacingAndGlyphs">Cable TV</text>
<text x="2125" y="859" class="b" font-size="26" text-anchor="middle" textLength="87" lengthAdjust="spacingAndGlyphs">Modem</text>

<rect x="2209" y="838" width="172" height="22" rx="2" fill="#1a1a1a"/>
<path d="M2232,845 H2366 M2232,853 H2366" stroke="#9a9a9a" stroke-width="4" stroke-dasharray="4 2"/>
<path d="M2317,863 L2324,875 H2319 V892 H2315 V875 H2310 Z" fill="#12aee8"/>
<path d="M2337,892 L2344,880 H2339 V863 H2335 V880 H2330 Z" fill="#ff0000"/>
<path d="M2357,892 L2364,880 H2359 V863 H2355 V880 H2350 Z" fill="#000"/>

<path d="M2307,998 L2222,998 A85,85 0 0 1 2307,913 Z" fill="#bfe6f6"/>
<path d="M2307,998 L2252,998 A55,55 0 0 1 2307,943 Z" fill="#38bdec"/>
<path d="M2307,998 L2307,913 A85,85 0 0 1 2392,998 Z" fill="#fcdcc6"/>
<path d="M2307,998 L2307,943 A55,55 0 0 1 2362,998 Z" fill="#f6ab7e"/>
<circle cx="2253" cy="952" r="8" fill="#fff" stroke="#5cc6ee"/><circle cx="2268" cy="935" r="8" fill="#fff" stroke="#5cc6ee"/><circle cx="2289" cy="924" r="8" fill="#fff" stroke="#5cc6ee"/>
<circle cx="2326" cy="924" r="8" fill="#fff" stroke="#f5a070"/><circle cx="2347" cy="935" r="8" fill="#fff" stroke="#f5a070"/><circle cx="2362" cy="952" r="8" fill="#fff" stroke="#f5a070"/>
<path d="M2280,985 L2272,940 M2307,985 L2307,935 M2334,985 L2342,940" stroke="#111" stroke-width="3"/>
<path d="M2262,984 H2352 L2360,996 H2255 Z" fill="#111"/>
<text x="2226" y="996" font-size="8" fill="#5cc6ee">2.4GHz</text>
<text x="2368" y="996" font-size="8" fill="#f5a070">5GHz</text>

<path d="M2012,912 H2178 L2190,950 H2000 Z" fill="#c9c9c9"/>
<path d="M2020,920 H2175 M2018,928 H2178 M2015,936 H2182 M2013,943 H2185" stroke="#777" stroke-width="2" stroke-dasharray="3 2"/>
<rect x="2000" y="950" width="190" height="40" fill="url(#stb)"/>
<ellipse cx="2090" cy="968" rx="28" ry="8" fill="#555"/>
<circle cx="2050" cy="968" r="6" fill="#888"/><circle cx="2130" cy="968" r="6" fill="#888"/>
<rect x="2006" y="965" width="22" height="6" fill="#333"/>
<path d="M2065,948 L2140,925" stroke="#1a1a1a" stroke-width="14" stroke-linecap="round"/>
<text x="2008" y="1027" class="b" font-size="28" textLength="185" lengthAdjust="spacingAndGlyphs">CABLE TV STB</text>
</svg>
</body></html>
